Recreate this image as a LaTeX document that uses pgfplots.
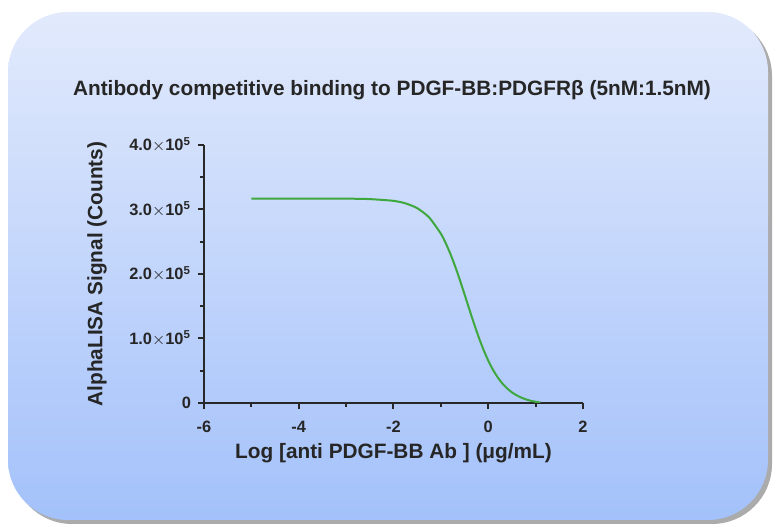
\documentclass[border=0pt]{standalone}
\usepackage{fontspec}
\setmainfont{Liberation Sans}
\usepackage{pgfplots}
\pgfplotsset{compat=1.18}
\usepackage{pgfplotstable}
\usetikzlibrary{shadows}
\definecolor{axisink}{RGB}{40,40,40}
\definecolor{fitgreen}{RGB}{62,168,62}
\definecolor{bgtop}{RGB}{226,234,252}
\definecolor{bgbot}{RGB}{163,193,250}

% fitted curve (signal in counts)
\pgfplotstableread{
x     y
-5.0  317000
-4.0  317000
-3.0  316800
-2.5  316100
-2.0  313400
-1.75 309600
-1.5  302100
-1.25 287900
-1.0  262500
-0.9  248200
-0.8  231400
-0.7  212200
-0.6  191000
-0.5  168500
-0.4  145500
-0.3  123000
-0.2  101800
-0.1  82600
0.0   65800
0.1   51500
0.2   39700
0.3   30100
0.4   22500
0.5   16500
0.6   11900
0.7   8300
0.8   5500
0.9   3400
1.0   1900
1.1   700
}\fitcurve

\begin{document}
\begin{tikzpicture}
\path (0,0) rectangle (389pt,264.5pt);
\path[top color=bgtop, bottom color=bgbot, rounded corners=30pt,
  drop shadow={shadow xshift=2pt, shadow yshift=-2pt, opacity=0.55, fill=black!60}]
  (4pt,4.5pt) rectangle (384pt,258.5pt);
\node[font=\bfseries\fontsize{10.4}{12}\selectfont, text=black!85] at (196pt,219.5pt)
  {Antibody competitive binding to PDGF-BB:PDGFRβ (5nM:1.5nM)};
\begin{axis}[at={(102pt,63pt)}, anchor=south west, scale only axis,
  width=189.5pt, height=129pt,
  axis lines*=left, enlargelimits=false,
  xmin=-6, xmax=2, ymin=0, ymax=400000,
  xtick={-6,-4,-2,0,2}, xticklabels={-6,-4,-2,0,2},
  ytick={0,100000,200000,300000,400000},
  yticklabels={0,{1.0$\times$10\textsuperscript{5}},{2.0$\times$10\textsuperscript{5}},{3.0$\times$10\textsuperscript{5}},{4.0$\times$10\textsuperscript{5}}},
  scaled y ticks=false,
  minor x tick num=1, minor y tick num=1,
  tick align=outside, major tick length=3pt, minor tick length=2pt,
  axis line style={axisink, line width=1.1pt},
  every tick/.style={axisink, line width=1pt},
  tick label style={font=\bfseries\fontsize{8.2}{9}\selectfont, text=black!85},
  xticklabel style={yshift=-2.5pt}, yticklabel style={xshift=0pt},
  xlabel={Log [anti PDGF-BB Ab ] (μg/mL)},
  ylabel={AlphaLISA Signal (Counts)},
  label style={font=\bfseries\fontsize{10.4}{12}\selectfont, text=black!85},
  xlabel style={at={(axis description cs:0.5,-0.194)}, anchor=center},
  ylabel style={at={(axis description cs:-0.282,0.5)}, anchor=center},
]
\addplot[fitgreen, line width=1pt, smooth, tension=0.4] table {\fitcurve};
\end{axis}
\end{tikzpicture}
\end{document}
